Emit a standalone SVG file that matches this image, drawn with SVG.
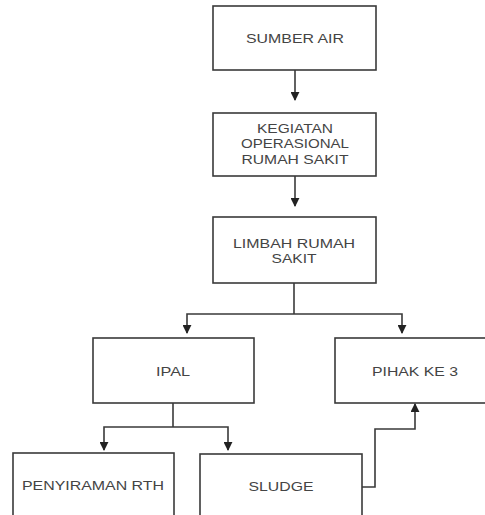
<svg xmlns="http://www.w3.org/2000/svg" width="485" height="515" viewBox="0 0 485 515">
<defs>
<marker id="ah" viewBox="0 0 10 10" refX="9" refY="5" markerWidth="9" markerHeight="9" markerUnits="userSpaceOnUse" orient="auto">
<path d="M0,0 L10,5 L0,10 z" fill="#222"/>
</marker>
<style>
.box{fill:#fff;stroke:#3a3a3a;stroke-width:1.6}
.lbl{font-family:"Liberation Sans",Arial,sans-serif;font-size:13px;fill:#444;text-anchor:middle;dominant-baseline:central}
.con{fill:none;stroke:#3a3a3a;stroke-width:1.6}
</style>
</defs>
<rect width="485" height="515" fill="#fff"/>
<g id="sumber-air">
<rect class="box" x="213" y="6" width="163" height="64"/>
<text class="lbl" x="295" y="38" textLength="98" lengthAdjust="spacingAndGlyphs">SUMBER AIR</text>
</g>
<g id="kegiatan">
<rect class="box" x="213" y="113" width="163" height="63"/>
<text class="lbl" x="295" y="128" textLength="76" lengthAdjust="spacingAndGlyphs">KEGIATAN</text>
<text class="lbl" x="295" y="143.5" textLength="108" lengthAdjust="spacingAndGlyphs">OPERASIONAL</text>
<text class="lbl" x="295" y="159" textLength="107" lengthAdjust="spacingAndGlyphs">RUMAH SAKIT</text>
</g>
<g id="limbah">
<rect class="box" x="213" y="217" width="163" height="66"/>
<text class="lbl" x="294" y="243" textLength="122" lengthAdjust="spacingAndGlyphs">LIMBAH RUMAH</text>
<text class="lbl" x="294" y="258" textLength="45" lengthAdjust="spacingAndGlyphs">SAKIT</text>
</g>
<g id="ipal">
<rect class="box" x="93" y="338" width="161" height="65"/>
<text class="lbl" x="173" y="371" textLength="34" lengthAdjust="spacingAndGlyphs">IPAL</text>
</g>
<g id="pihak-ke-3">
<rect class="box" x="335" y="338" width="160" height="65"/>
<text class="lbl" x="415" y="371" textLength="86" lengthAdjust="spacingAndGlyphs">PIHAK KE 3</text>
</g>
<g id="penyiraman">
<rect class="box" x="13" y="453" width="161" height="70"/>
<text class="lbl" x="93" y="485" textLength="142" lengthAdjust="spacingAndGlyphs">PENYIRAMAN RTH</text>
</g>
<g id="sludge">
<rect class="box" x="200" y="454" width="162" height="70"/>
<text class="lbl" x="281" y="486" textLength="65" lengthAdjust="spacingAndGlyphs">SLUDGE</text>
</g>
<g id="connectors">
<path class="con" d="M295,70 V100" marker-end="url(#ah)"/>
<path class="con" d="M295,176 V206" marker-end="url(#ah)"/>
<path class="con" d="M294,283 V314"/>
<path class="con" d="M294,314 H187 V333" marker-end="url(#ah)"/>
<path class="con" d="M294,314 H402 V333" marker-end="url(#ah)"/>
<path class="con" d="M173,403 V427"/>
<path class="con" d="M173,427 H104 V450" marker-end="url(#ah)"/>
<path class="con" d="M173,427 H228 V450" marker-end="url(#ah)"/>
<path class="con" d="M362,487 H375 V429 H415 V404" marker-end="url(#ah)"/>
</g>
</svg>
